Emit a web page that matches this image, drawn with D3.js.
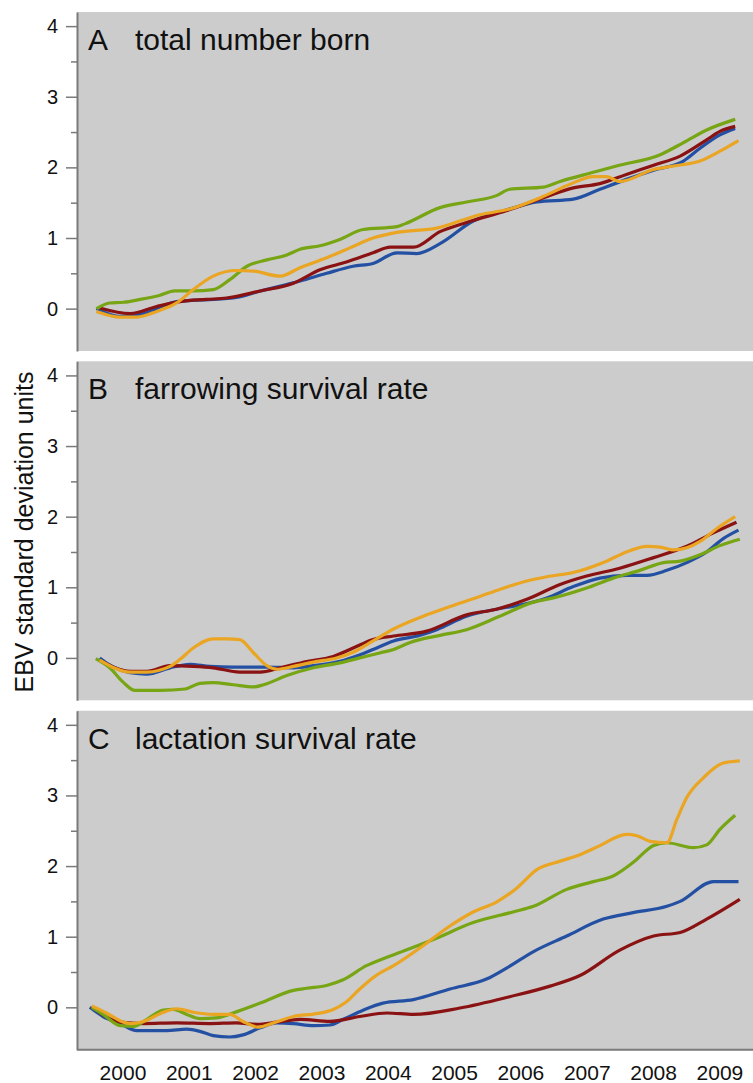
<!DOCTYPE html>
<html>
<head>
<meta charset="utf-8">
<script src="https://cdn.jsdelivr.net/npm/d3@7"></script>
<style>
  body { margin: 0; background: #fff; }
  svg { display: block; font-family: "Liberation Sans", Arial, sans-serif; }
</style>
</head>
<body>
<div id="chart"></div>
<script>
// panel titles
const panelLetters = ['A', 'B', 'C'];
const panelTitles = ['total number born', 'farrowing survival rate', 'lactation survival rate'];
const yearLabels = [2000, 2001, 2002, 2003, 2004, 2005, 2006, 2007, 2008, 2009];
const yTicks = [0, 1, 2, 3, 4];
const yMinorTicks = [0.5, 1.5, 2.5, 3.5];

// series colours (blue, red, green, orange)
const seriesColors = ['#2350a3', '#8a1212', '#77a514', '#eaa522'];

// panel A: total number born  -- [year, EBV sd units]
const aBlue = [[2000.10,0],[2000.46,-0.11],[2000.81,-0.07],[2001.31,0.10],[2002.16,0.15],[2002.57,0.25],[2003.17,0.39],[2003.57,0.50],[2003.97,0.60],[2004.27,0.64],[2004.63,0.79],[2004.93,0.78],[2005.28,0.92],[2005.78,1.24],[2006.29,1.40],[2006.74,1.51],[2007.29,1.55],[2007.69,1.69],[2008.09,1.83],[2008.50,1.96],[2008.95,2.09],[2009.20,2.27],[2009.50,2.46],[2009.73,2.55]];
const aRed = [[2000.15,0.01],[2000.61,-0.07],[2001.01,0.03],[2001.36,0.10],[2001.76,0.13],[2002.06,0.15],[2002.57,0.25],[2003.07,0.36],[2003.47,0.55],[2003.87,0.66],[2004.27,0.79],[2004.53,0.87],[2004.88,0.87],[2005.28,1.09],[2005.68,1.22],[2006.29,1.39],[2006.84,1.57],[2007.29,1.71],[2007.69,1.77],[2008.09,1.90],[2008.50,2.03],[2008.90,2.16],[2009.30,2.39],[2009.50,2.51],[2009.73,2.58]];
const aGreen = [[2000.10,0],[2000.30,0.08],[2000.51,0.09],[2000.76,0.13],[2001.06,0.19],[2001.28,0.25],[2001.56,0.25],[2001.86,0.27],[2002.11,0.41],[2002.37,0.60],[2002.67,0.69],[2002.97,0.76],[2003.17,0.84],[2003.47,0.89],[2003.77,0.98],[2004.12,1.12],[2004.63,1.16],[2004.75,1.20],[2005.28,1.43],[2005.68,1.51],[2006.13,1.60],[2006.33,1.69],[2006.84,1.72],[2007.09,1.80],[2007.59,1.93],[2007.94,2.02],[2008.60,2.18],[2008.95,2.35],[2009.30,2.53],[2009.73,2.68]];
const aOrange = [[2000.10,-0.04],[2000.46,-0.12],[2000.71,-0.12],[2001.01,-0.04],[2001.31,0.08],[2001.56,0.27],[2001.86,0.46],[2002.21,0.54],[2002.47,0.53],[2002.87,0.46],[2003.17,0.58],[2003.57,0.72],[2003.92,0.86],[2004.27,1.00],[2004.63,1.08],[2005.23,1.14],[2005.88,1.33],[2006.33,1.41],[2006.84,1.59],[2007.24,1.76],[2007.59,1.87],[2007.79,1.87],[2007.99,1.80],[2008.50,1.97],[2008.80,2.02],[2009.20,2.09],[2009.50,2.23],[2009.78,2.38]];

// panel B: farrowing survival rate
const bBlue = [[2000.15,0],[2000.30,-0.10],[2000.61,-0.21],[2000.86,-0.23],[2001.21,-0.14],[2001.51,-0.09],[2001.81,-0.12],[2002.16,-0.13],[2002.67,-0.13],[2003.07,-0.14],[2003.37,-0.11],[2003.72,-0.06],[2003.97,0.01],[2004.27,0.12],[2004.58,0.24],[2004.98,0.32],[2005.23,0.40],[2005.68,0.59],[2006.13,0.69],[2006.49,0.75],[2006.89,0.85],[2007.29,1.01],[2007.69,1.13],[2008.09,1.17],[2008.40,1.17],[2008.70,1.24],[2009.00,1.35],[2009.30,1.50],[2009.55,1.69],[2009.78,1.81]];
const bRed = [[2000.15,-0.03],[2000.61,-0.19],[2000.86,-0.19],[2001.21,-0.11],[2001.56,-0.12],[2001.86,-0.14],[2002.26,-0.20],[2002.57,-0.20],[2002.87,-0.14],[2003.27,-0.05],[2003.67,0.02],[2003.97,0.14],[2004.27,0.26],[2004.58,0.31],[2005.08,0.38],[2005.68,0.61],[2006.13,0.69],[2006.59,0.83],[2007.09,1.04],[2007.49,1.16],[2007.99,1.27],[2008.50,1.42],[2009.00,1.58],[2009.40,1.77],[2009.75,1.92]];
const bGreen = [[2000.09,-0.01],[2000.30,-0.14],[2000.51,-0.35],[2000.68,-0.46],[2001.06,-0.46],[2001.44,-0.44],[2001.66,-0.36],[2001.86,-0.35],[2002.16,-0.38],[2002.47,-0.41],[2002.62,-0.38],[2002.97,-0.25],[2003.37,-0.14],[2003.77,-0.07],[2004.07,0],[2004.37,0.07],[2004.58,0.12],[2004.83,0.22],[2005.28,0.32],[2005.68,0.40],[2006.18,0.59],[2006.69,0.79],[2006.99,0.85],[2007.49,0.99],[2007.89,1.13],[2008.29,1.24],[2008.65,1.35],[2008.90,1.37],[2009.20,1.46],[2009.50,1.59],[2009.80,1.68]];
const bOrange = [[2000.15,-0.03],[2000.61,-0.20],[2000.86,-0.20],[2001.21,-0.12],[2001.36,-0.02],[2001.56,0.14],[2001.86,0.27],[2002.06,0.27],[2002.26,0.26],[2002.47,0.07],[2002.67,-0.11],[2002.82,-0.16],[2003.07,-0.12],[2003.37,-0.06],[2003.72,0],[2003.97,0.08],[2004.27,0.24],[2004.58,0.41],[2005.08,0.61],[2005.53,0.76],[2005.88,0.87],[2006.18,0.97],[2006.59,1.09],[2006.89,1.15],[2007.29,1.21],[2007.79,1.37],[2008.09,1.50],[2008.40,1.58],[2008.60,1.57],[2008.80,1.53],[2009.00,1.56],[2009.20,1.65],[2009.45,1.83],[2009.73,2.00]];

// panel C: lactation survival rate
const cBlue = [[2000.00,0],[2000.20,-0.13],[2000.46,-0.23],[2000.71,-0.33],[2001.16,-0.33],[2001.46,-0.31],[2001.66,-0.34],[2001.86,-0.40],[2002.11,-0.42],[2002.31,-0.39],[2002.57,-0.29],[2002.82,-0.22],[2003.07,-0.23],[2003.37,-0.26],[2003.62,-0.25],[2003.82,-0.17],[2004.12,-0.04],[2004.42,0.06],[2004.88,0.11],[2005.43,0.26],[2005.98,0.40],[2006.29,0.56],[2006.69,0.79],[2007.19,1.01],[2007.74,1.25],[2008.19,1.34],[2008.70,1.43],[2008.90,1.50],[2009.40,1.78],[2009.78,1.78]];
const cRed = [[2000.03,0.01],[2000.46,-0.21],[2000.81,-0.23],[2001.31,-0.22],[2001.81,-0.23],[2002.21,-0.22],[2002.52,-0.24],[2002.82,-0.21],[2003.17,-0.17],[2003.62,-0.20],[2004.07,-0.13],[2004.48,-0.08],[2004.88,-0.10],[2005.58,-0.01],[2006.33,0.15],[2006.94,0.30],[2007.39,0.45],[2007.99,0.81],[2008.50,1.01],[2008.90,1.06],[2009.30,1.25],[2009.80,1.53]];
const cGreen = [[2000.03,0],[2000.20,-0.10],[2000.46,-0.26],[2000.66,-0.27],[2000.86,-0.17],[2001.11,-0.04],[2001.26,-0.03],[2001.46,-0.10],[2001.66,-0.16],[2001.91,-0.15],[2002.16,-0.08],[2002.57,0.06],[2003.07,0.24],[2003.27,0.27],[2003.57,0.31],[2003.82,0.39],[2004.17,0.59],[2004.48,0.71],[2004.68,0.78],[2005.18,0.96],[2005.78,1.20],[2006.38,1.35],[2006.69,1.43],[2007.19,1.67],[2007.59,1.78],[2007.89,1.86],[2008.19,2.05],[2008.50,2.29],[2008.70,2.33],[2009.10,2.26],[2009.30,2.30],[2009.50,2.52],[2009.73,2.72]];
const cOrange = [[2000.03,0.02],[2000.25,-0.08],[2000.51,-0.21],[2000.61,-0.23],[2000.81,-0.20],[2001.06,-0.09],[2001.31,-0.02],[2001.56,-0.07],[2001.86,-0.10],[2002.11,-0.10],[2002.31,-0.20],[2002.54,-0.28],[2002.77,-0.22],[2003.07,-0.13],[2003.42,-0.09],[2003.67,-0.03],[2003.87,0.08],[2004.07,0.26],[2004.33,0.46],[2004.58,0.59],[2005.08,0.91],[2005.38,1.12],[2005.78,1.35],[2006.13,1.49],[2006.44,1.69],[2006.74,1.95],[2007.09,2.07],[2007.39,2.16],[2007.69,2.29],[2008.09,2.45],[2008.25,2.43],[2008.45,2.35],[2008.70,2.33],[2008.85,2.66],[2009.00,2.97],[2009.25,3.25],[2009.55,3.46],[2009.80,3.49]];

const panelSeries = [
  [aBlue, aRed, aGreen, aOrange],
  [bBlue, bRed, bGreen, bOrange],
  [cBlue, cRed, cGreen, cOrange]
];

const width = 753, height = 1083;
const left = 77;
const panelHeight = 339;
const panelTops = [12, 361.3, 710.7];

const svg = d3.select('#chart').append('svg')
  .attr('width', width)
  .attr('height', height);

const x = d3.scaleLinear().domain([2000, 2010]).range([89.8, 753.1]);

const axisColor = '#7a7a7a';

panelSeries.forEach((series, i) => {
  const top = panelTops[i];
  const y = d3.scaleLinear().domain([-0.6, 4.2]).range([top + panelHeight, top]);

  svg.append('rect')
    .attr('x', left)
    .attr('y', top)
    .attr('width', width - left)
    .attr('height', panelHeight)
    .attr('fill', '#cccccc');

  // minor ticks first, then the labelled ones
  const minor = svg.append('g')
    .attr('transform', `translate(${left},0)`)
    .call(d3.axisLeft(y).tickValues(yMinorTicks).tickSize(6).tickFormat(''));
  minor.select('.domain').remove();
  minor.selectAll('.tick line').attr('stroke', axisColor).attr('stroke-width', 1.5);

  const major = svg.append('g')
    .attr('transform', `translate(${left},0)`)
    .call(d3.axisLeft(y).tickValues(yTicks).tickSize(11).tickPadding(8).tickSizeOuter(0).tickFormat(d3.format('d')));
  major.select('.domain').attr('stroke', axisColor).attr('stroke-width', 2);
  major.selectAll('.tick line').attr('stroke', axisColor).attr('stroke-width', 1.5);
  major.selectAll('text')
    .style('font-size', '20px')
    .style('font-family', '"Liberation Sans", Arial, sans-serif')
    .attr('fill', '#111');

  const line = d3.line()
    .x(d => x(d[0]))
    .y(d => y(d[1]))
    .curve(d3.curveMonotoneX);

  series.forEach((s, j) => {
    svg.append('path')
      .datum(s)
      .attr('fill', 'none')
      .attr('stroke', seriesColors[j])
      .attr('stroke-width', 3.2)
      .attr('stroke-linejoin', 'round')
      .attr('d', line);
  });

  svg.append('text')
    .attr('x', 88)
    .attr('y', top + 38)
    .style('font-size', '30px')
    .attr('fill', '#111')
    .text(panelLetters[i]);
  svg.append('text')
    .attr('x', 135)
    .attr('y', top + 38)
    .style('font-size', '30px')
    .attr('fill', '#111')
    .text(panelTitles[i]);
});

// bottom axis of the last panel, labels centred in each year
const bottom = panelTops[2] + panelHeight;
svg.append('line')
  .attr('x1', left).attr('x2', width)
  .attr('y1', bottom).attr('y2', bottom)
  .attr('stroke', axisColor)
  .attr('stroke-width', 2);

svg.append('g')
  .selectAll('text')
  .data(yearLabels)
  .enter()
  .append('text')
  .attr('x', d => x(d + 0.5))
  .attr('y', bottom + 30)
  .attr('text-anchor', 'middle')
  .style('font-size', '21px')
  .attr('fill', '#111')
  .text(d => d);

svg.append('text')
  .attr('transform', 'translate(33,532) rotate(-90)')
  .attr('text-anchor', 'middle')
  .style('font-size', '25px')
  .attr('fill', '#111')
  .text('EBV standard deviation units');
</script>
</body>
</html>
